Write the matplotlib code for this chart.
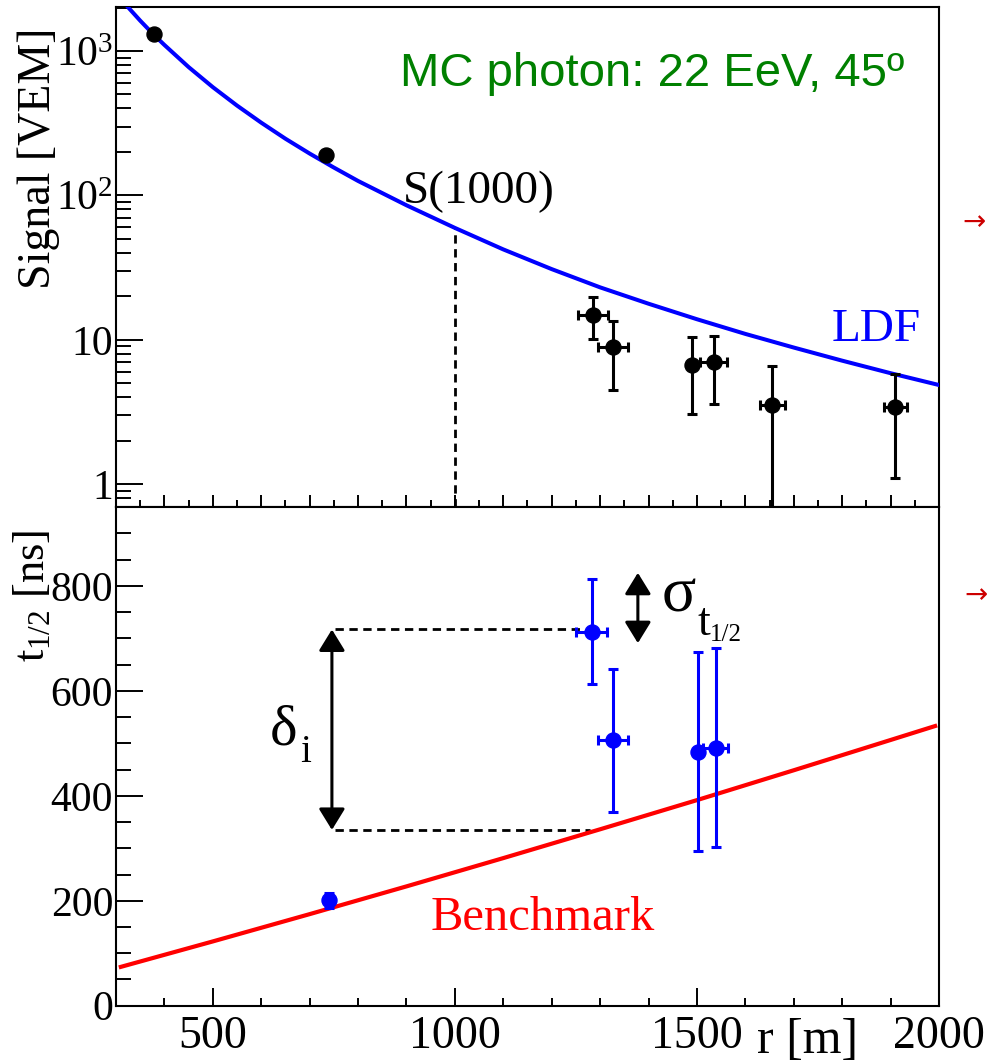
import numpy as np
import matplotlib.pyplot as plt
from matplotlib.ticker import FixedLocator, FixedFormatter, MultipleLocator, NullFormatter

plt.rcParams['font.family'] = ['Liberation Serif', 'DejaVu Serif']
plt.rcParams['mathtext.fontset'] = 'custom'
plt.rcParams['mathtext.rm'] = 'Liberation Serif'
plt.rcParams['mathtext.it'] = 'Liberation Serif'
plt.rcParams['mathtext.bf'] = 'Liberation Serif:bold'

# --- top panel: station signals and LDF fit
sig_r = [378, 734, 1286, 1327, 1490, 1535, 1656, 1910]
sig_val = [1305, 190, 14.9, 8.97, 6.70, 7.06, 3.54, 3.45]
sig_up = [1305, 190, 19.7, 13.5, 10.4, 10.6, 6.59, 5.78]
sig_lo = [1305, 190, 10.1, 4.5, 3.05, 3.58, 0.01, 1.10]
sig_rerr = [0, 0, 31, 31, 0, 28, 26, 24]

ldf_r = [300, 325, 350, 378, 400, 450, 500, 550, 600, 650, 700, 750, 800, 900, 1000,
         1100, 1200, 1300, 1400, 1500, 1600, 1700, 1800, 1900, 2000]
ldf_s = [2520, 2007, 1622, 1296, 1101, 774, 562, 419, 319, 247, 195, 156, 126, 85.5, 59.6,
         42.3, 30.9, 23.1, 17.8, 13.9, 11.0, 8.85, 7.18, 5.88, 4.87]

s1000 = 59.6

# --- bottom panel: risetimes and benchmark
t_r = [740, 1283, 1327, 1502, 1539]
t_val = [201, 713, 507, 484, 491]
t_up = [215, 813, 642, 674, 681]
t_lo = [187, 613, 370, 294, 302]
t_rerr = [0, 32, 31, 0, 26]

bench_r = [310, 500, 700, 900, 1100, 1300, 1500, 1700, 1900, 1992]
bench_t = [74, 122.5, 174.5, 227.4, 281.3, 336.2, 391.8, 448.7, 506.4, 533]

delta_top, delta_bot = 717, 335
sigma_top, sigma_bot = 825, 691

fig = plt.figure(figsize=(9.88, 10.62), dpi=100)
ax1 = fig.add_axes([0.1174, 0.52288, 0.8330, 0.47025])
ax2 = fig.add_axes([0.1174, 0.05301, 0.8330, 0.46987])

dash = (0, (3.0, 2.0))

# top
ax1.plot(ldf_r, ldf_s, color='#0000ff', lw=2.9, zorder=3)
yerr1 = [np.array(sig_val) - np.array(sig_lo), np.array(sig_up) - np.array(sig_val)]
ax1.errorbar(sig_r, sig_val, xerr=sig_rerr, yerr=yerr1, fmt='o', color='black',
             ms=10.8, elinewidth=2.2, capsize=3.6, capthick=2.2, zorder=5)
ax1.plot([1000, 1000], [0.7, s1000], color='black', lw=2.0, ls=dash, zorder=2)

ax1.set_yscale('log')
ax1.set_xlim(300, 2000)
ax1.set_ylim(0.7, 2007)
ax1.yaxis.set_major_locator(FixedLocator([1, 10, 100, 1000]))
ax1.yaxis.set_major_formatter(FixedFormatter(['1', '10', r'$10^{2}$', r'$10^{3}$']))
ax1.yaxis.set_minor_locator(FixedLocator([k * 10.0 ** d for d in range(-1, 4) for k in range(2, 10)]))
ax1.yaxis.set_minor_formatter(NullFormatter())
ax1.xaxis.set_major_locator(MultipleLocator(100))
ax1.xaxis.set_minor_locator(MultipleLocator(50))
ax1.xaxis.set_major_formatter(NullFormatter())
ax1.tick_params(axis='y', which='major', direction='in', length=19.4, width=1.4,
                labelsize=30, pad=2, right=False)
ax1.tick_params(axis='y', which='minor', direction='in', length=10.8, width=1.4, right=False)
ax1.tick_params(axis='x', which='major', direction='in', length=8.6, width=1.4, top=False)
ax1.tick_params(axis='x', which='minor', direction='in', length=5, width=1.4, top=False)

ax1.text(887, 572, 'MC photon: 22 EeV, 45º', color='#008000', fontsize=34,
         family=['Liberation Sans', 'DejaVu Sans'], va='baseline', ha='left')
ax1.text(893, 88.7, 'S(1000)', color='black', fontsize=34, va='baseline', ha='left')
ax1.text(1778, 9.82, 'LDF', color='#0000ff', fontsize=34, va='baseline', ha='left')

# bottom
ax2.plot(bench_r, bench_t, color='#ff0000', lw=3.0, zorder=3)
yerr2 = [np.array(t_val) - np.array(t_lo), np.array(t_up) - np.array(t_val)]
ax2.errorbar(t_r, t_val, xerr=t_rerr, yerr=yerr2, fmt='o', color='#0000ff',
             ms=10.8, elinewidth=2.2, capsize=3.6, capthick=2.2, zorder=5)
ax2.plot([752, 1262], [delta_top, delta_top], color='black', lw=2.0, ls=dash, zorder=2)
ax2.plot([752, 1280], [delta_bot, delta_bot], color='black', lw=2.0, ls=dash, zorder=2)

arrow = dict(arrowstyle='<|-|>,head_length=0.65,head_width=0.4', color='black', lw=2.2,
             mutation_scale=20, shrinkA=0, shrinkB=0)
ax2.annotate('', xy=(746, delta_top), xytext=(746, delta_bot), arrowprops=arrow)
ax2.annotate('', xy=(1378, sigma_top), xytext=(1378, sigma_bot), arrowprops=arrow)

# delta_i and sigma_t1/2 labels, built from pieces like the original
ax2.text(618, 497, 'δ', fontsize=42, va='baseline', ha='left')
ax2.text(680, 464, 'i', fontsize=28, va='baseline', ha='left')
ax2.text(1427, 751, 'σ', fontsize=46, va='baseline', ha='left')
ax2.text(1502, 707, 't', fontsize=33, va='baseline', ha='left')
ax2.text(1527, 696, '1/2', fontsize=18, va='baseline', ha='left')
ax2.text(949, 144, 'Benchmark', color='#ff0000', fontsize=35, va='baseline', ha='left')

ax2.set_xlim(300, 2000)
ax2.set_ylim(0, 951)
ax2.xaxis.set_major_locator(FixedLocator([500, 1000, 1500, 2000]))
ax2.xaxis.set_minor_locator(MultipleLocator(100))
ax2.yaxis.set_major_locator(MultipleLocator(200))
ax2.yaxis.set_minor_locator(MultipleLocator(50))
ax2.tick_params(axis='y', which='major', direction='in', length=19.4, width=1.4,
                labelsize=30, pad=2, right=False)
ax2.tick_params(axis='y', which='minor', direction='in', length=10.8, width=1.4, right=False)
ax2.tick_params(axis='x', which='major', direction='in', length=13, width=1.4,
                labelsize=33, pad=7, top=False)
ax2.tick_params(axis='x', which='minor', direction='in', length=6, width=1.4, top=False)

for ax in (ax1, ax2):
    for s in ax.spines.values():
        s.set_linewidth(1.5)

fig.text(39 / 988, 1 - 28 / 1062, 'Signal [VEM]', rotation=90, fontsize=33,
         ha='center', va='top')
fig.text(33 / 988, 1 - 530 / 1062, r'$t_{1/2}$ [ns]', rotation=90, fontsize=32,
         ha='center', va='top')
fig.text(757 / 988, 1 - 1053 / 1062, 'r [m]', fontsize=36, ha='left', va='baseline')

fig.text(962 / 988, 1 - 222 / 1062, '→', color='#cc0000', fontsize=20,
         family=['DejaVu Sans'], ha='left', va='center')
fig.text(964 / 988, 1 - 595 / 1062, '→', color='#cc0000', fontsize=20,
         family=['DejaVu Sans'], ha='left', va='center')

fig.savefig('out.png', dpi=100)
